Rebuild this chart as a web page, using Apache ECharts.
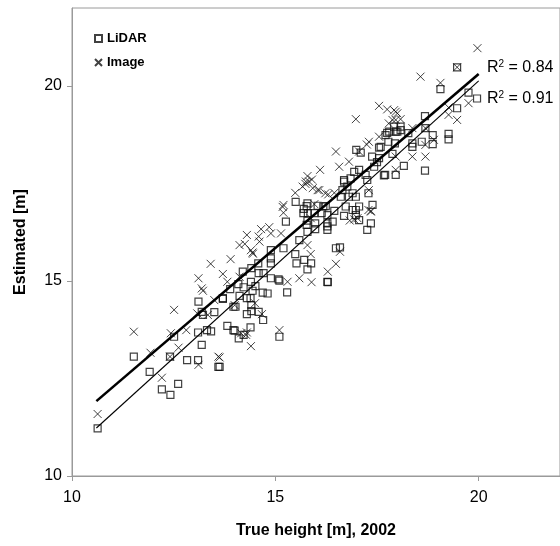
<!DOCTYPE html>
<html>
<head>
<meta charset="utf-8">
<script src="https://cdn.jsdelivr.net/npm/echarts@6/dist/echarts.min.js"></script>
<style>
    html, body { margin: 0; padding: 0; background: #fff; }
    #main { width: 560px; height: 546px; }
</style>
</head>
<body>
<div id="main"></div>
<script>
// LiDAR estimates [true height, estimated]
var lidarPoints = [
    [10.63,11.22],[11.52,13.06],[11.91,12.67],[12.21,12.22],[12.42,12.08],[12.61,12.36],[12.41,13.06],[12.51,13.57],
    [12.83,12.97],[13.10,12.97],[13.19,13.36],[13.10,13.68],[13.32,13.74],[13.42,13.71],[13.60,12.80],[13.11,14.47],
    [13.19,14.21],[13.22,14.13],[13.50,14.20],[13.71,14.56],[13.89,14.79],[13.82,13.85],[13.97,13.74],[13.97,14.34],
    [13.71,14.54],[14.00,13.73],[14.10,13.53],[14.22,13.62],[14.39,13.81],[14.70,14.00],[14.30,14.15],[14.41,14.23],
    [14.59,14.21],[14.41,14.38],[14.39,14.56],[14.30,14.56],[14.02,14.34],[14.12,14.62],[14.22,14.84],[14.09,14.92],
    [14.40,14.98],[14.51,14.87],[14.44,14.75],[14.69,14.70],[14.81,14.68],[14.89,15.07],[15.10,15.01],[15.29,14.71],
    [15.10,13.57],[14.20,15.24],[14.59,15.20],[14.71,15.20],[14.41,15.33],[14.58,15.45],[14.89,15.45],[14.89,15.58],
    [15.49,15.69],[15.52,15.45],[15.71,15.54],[15.79,15.30],[15.88,15.45],[16.29,14.97],[13.63,12.80],
    [15.50,17.03],[15.77,16.92],[15.69,16.74],[15.80,16.74],[15.96,16.74],[16.18,16.91],[16.28,16.69],[16.41,16.52],
    [16.28,16.31],[15.98,16.33],[15.77,16.44],[15.79,16.26],[15.59,16.05],[15.20,15.84],[16.49,15.84],[16.59,15.86],
    [16.69,17.55],[16.77,17.42],[16.90,17.25],[17.29,17.25],[17.39,16.95],[17.35,16.48],[17.26,16.31],[16.73,16.91],
    [16.90,16.82],[16.98,16.69],[14.89,15.79],[15.08,15.04],
    [16.99,18.36],[17.10,18.29],[17.55,18.42],[17.75,18.80],[17.78,18.57],[17.96,18.83],[17.94,18.53],[17.38,18.19],
    [17.50,18.05],[17.55,18.15],[17.43,17.93],[17.70,17.72],[17.96,17.72],[17.22,17.72],[17.26,17.59],[17.06,17.85],
    [16.94,17.80],[16.85,17.63],[16.69,17.59],[16.65,17.33],[16.61,17.16],[16.81,17.16],[16.98,17.16],[16.98,16.82],
    [16.69,16.67],[16.45,16.80],[16.24,16.92],[16.14,16.74],[15.98,16.48],[16.28,16.48],[16.28,16.40],[15.79,16.99],
    [15.70,16.85],[15.79,16.55],[16.04,16.93],[15.26,16.52],
    [19.06,19.92],[19.75,19.83],[19.96,19.68],[19.47,19.43],[19.26,18.77],[19.26,18.63],[18.68,19.23],[18.87,18.74],
    [18.60,18.57],[18.37,18.53],[18.37,18.44],[18.27,18.79],[18.08,18.87],[18.00,18.83],[17.80,18.83],[17.92,18.96],
    [18.08,18.96],[17.71,18.74],[17.88,18.26],[17.59,18.44],[19.47,20.48],[18.69,18.92],
    [18.68,17.83],[18.16,17.95],[17.67,17.71],[18.87,18.51],[17.06,16.91],[17.06,16.56],[16.28,14.98]
];

// image-based estimates [true height, estimated]
var imagePoints = [
    [10.63,11.59],[11.52,13.70],[11.93,13.16],[12.21,12.52],[12.51,14.26],[12.43,13.66],[12.62,13.29],[12.81,13.74],
    [13.11,12.85],[13.11,15.07],[13.19,14.81],[13.22,14.75],[13.08,14.17],[13.34,14.13],[13.41,15.44],[13.71,15.18],
    [13.90,15.56],[13.82,14.98],[13.50,14.51],[13.60,13.06],[12.41,13.06],
    [14.00,14.38],[14.12,15.11],[14.30,13.68],[14.40,13.33],[14.50,14.43],[14.67,14.15],[15.10,13.74],[15.30,14.98],
    [15.59,15.07],[15.89,14.97],[16.29,15.24],[16.49,15.44],[16.59,15.75],[15.87,15.69],[13.63,13.04],[14.44,15.73],
    [14.16,13.66],[14.28,13.62],
    [15.49,17.26],[15.74,17.49],[15.83,17.55],[16.04,17.33],[16.23,17.25],[16.45,17.26],[15.18,16.90],[15.20,16.75],
    [14.30,16.18],[14.12,15.92],[14.25,15.95],[14.65,16.33],[14.85,16.38],[14.59,16.14],[14.61,16.01],[14.89,16.22],
    [15.14,16.22],[14.40,15.79],[14.45,15.70],[15.96,16.97],[15.87,16.61],[16.94,16.58],[16.83,16.55],[17.35,16.80],
    [17.55,19.49],[17.75,19.40],[17.96,19.34],[16.98,19.15],[17.79,19.04],[17.96,19.13],[16.49,18.32],[17.30,18.57],
    [17.25,18.50],[17.55,18.70],[17.06,18.32],[16.81,18.06],[16.57,17.93],[16.10,17.85],[15.79,17.69],[15.75,17.55],
    [15.90,17.60],[15.67,17.42],[15.92,17.38],[16.08,17.33],[16.30,17.22],[15.20,16.95],[17.29,16.82],[17.35,16.78],
    [17.02,16.61],[17.96,17.85],[17.30,17.33],[15.79,15.92],
    [19.97,20.97],[18.57,20.24],[19.06,20.08],[19.47,20.48],[19.75,19.56],[19.26,19.26],[19.47,19.13],[19.26,19.45],
    [17.92,19.38],[18.00,19.30],[17.88,19.13],[18.08,19.15],[18.37,18.92],[18.69,18.92],[18.90,18.62],[18.69,18.49],
    [18.37,18.19],[18.69,18.19],[17.96,18.19]
];

// fitted lines (end points)
var imageFit = [[10.6, 11.92], [20.0, 20.31]];
var lidarFit = [[10.6, 11.23], [20.0, 20.13]];

var axisTicks = [10, 15, 20];
var r2Labels = ['0.84', '0.91'];

var font = 'Arial, "Liberation Sans", sans-serif';
var crossPath = 'path://M0,0L10,10M10,0L0,10';

var myChart = echarts.init(document.getElementById('main'));

var option = {
    animation: false,
    grid: {
        left: 72, right: -2, top: 8, bottom: 70,
        show: true, borderColor: '#9a9a9a', borderWidth: 1
    },
    legend: {
        orient: 'vertical',
        left: 89, top: 27,
        itemGap: 11,
        itemWidth: 7, itemHeight: 7,
        textStyle: { fontFamily: font, fontWeight: 'bold', fontSize: 13, color: '#000' },
        data: [
            { name: 'LiDAR', icon: 'rect' },
            { name: 'Image', icon: crossPath }
        ]
    },
    xAxis: {
        type: 'value', min: 10, max: 22,
        name: 'True height [m], 2002',
        nameLocation: 'middle', nameGap: 47,
        nameTextStyle: { fontFamily: font, fontWeight: 'bold', fontSize: 16, color: '#000' },
        axisLine: { onZero: false, lineStyle: { color: '#9a9a9a' } },
        axisTick: { show: true, length: 5, customValues: axisTicks, lineStyle: { color: '#9a9a9a' } },
        axisLabel: { customValues: axisTicks, margin: 14, fontFamily: font, fontSize: 16, color: '#000' },
        splitLine: { show: false }
    },
    yAxis: {
        type: 'value', min: 10, max: 22,
        name: 'Estimated [m]',
        nameLocation: 'middle', nameGap: 43,
        nameTextStyle: { fontFamily: font, fontWeight: 'bold', fontSize: 16, color: '#000' },
        axisLine: { show: true, onZero: false, lineStyle: { color: '#9a9a9a' } },
        axisTick: { show: true, length: 5, customValues: axisTicks, lineStyle: { color: '#9a9a9a' } },
        axisLabel: { customValues: axisTicks, margin: 10, fontFamily: font, fontSize: 16, color: '#000' },
        splitLine: { show: false }
    },
    series: [
        {
            name: 'LiDAR', type: 'scatter',
            symbol: 'rect', symbolSize: 7,
            itemStyle: { color: 'rgba(0,0,0,0)', borderColor: '#111', borderWidth: 1.2 },
            data: lidarPoints, z: 3
        },
        {
            name: 'Image', type: 'scatter',
            symbol: crossPath, symbolSize: 8,
            itemStyle: { color: 'rgba(0,0,0,0)', borderColor: '#111', borderWidth: 1 },
            data: imagePoints, z: 4
        },
        {
            name: 'Image fit', type: 'line', data: imageFit,
            symbol: 'none', lineStyle: { color: '#000', width: 2.6 }, z: 5
        },
        {
            name: 'LiDAR fit', type: 'line', data: lidarFit,
            symbol: 'none', lineStyle: { color: '#000', width: 1.1 }, z: 5
        }
    ],
    graphic: [
        {
            type: 'text', left: 487, top: 59,
            style: {
                text: 'R{sup|2} = ' + r2Labels[0],
                font: '16px ' + font, fill: '#000',
                rich: { sup: { fontSize: 10, verticalAlign: 'top', padding: [0, 0, 8, 0], fontFamily: font } }
            }
        },
        {
            type: 'text', left: 487, top: 90,
            style: {
                text: 'R{sup|2} = ' + r2Labels[1],
                font: '16px ' + font, fill: '#000',
                rich: { sup: { fontSize: 10, verticalAlign: 'top', padding: [0, 0, 8, 0], fontFamily: font } }
            }
        }
    ]
};

myChart.setOption(option);
</script>
</body>
</html>
